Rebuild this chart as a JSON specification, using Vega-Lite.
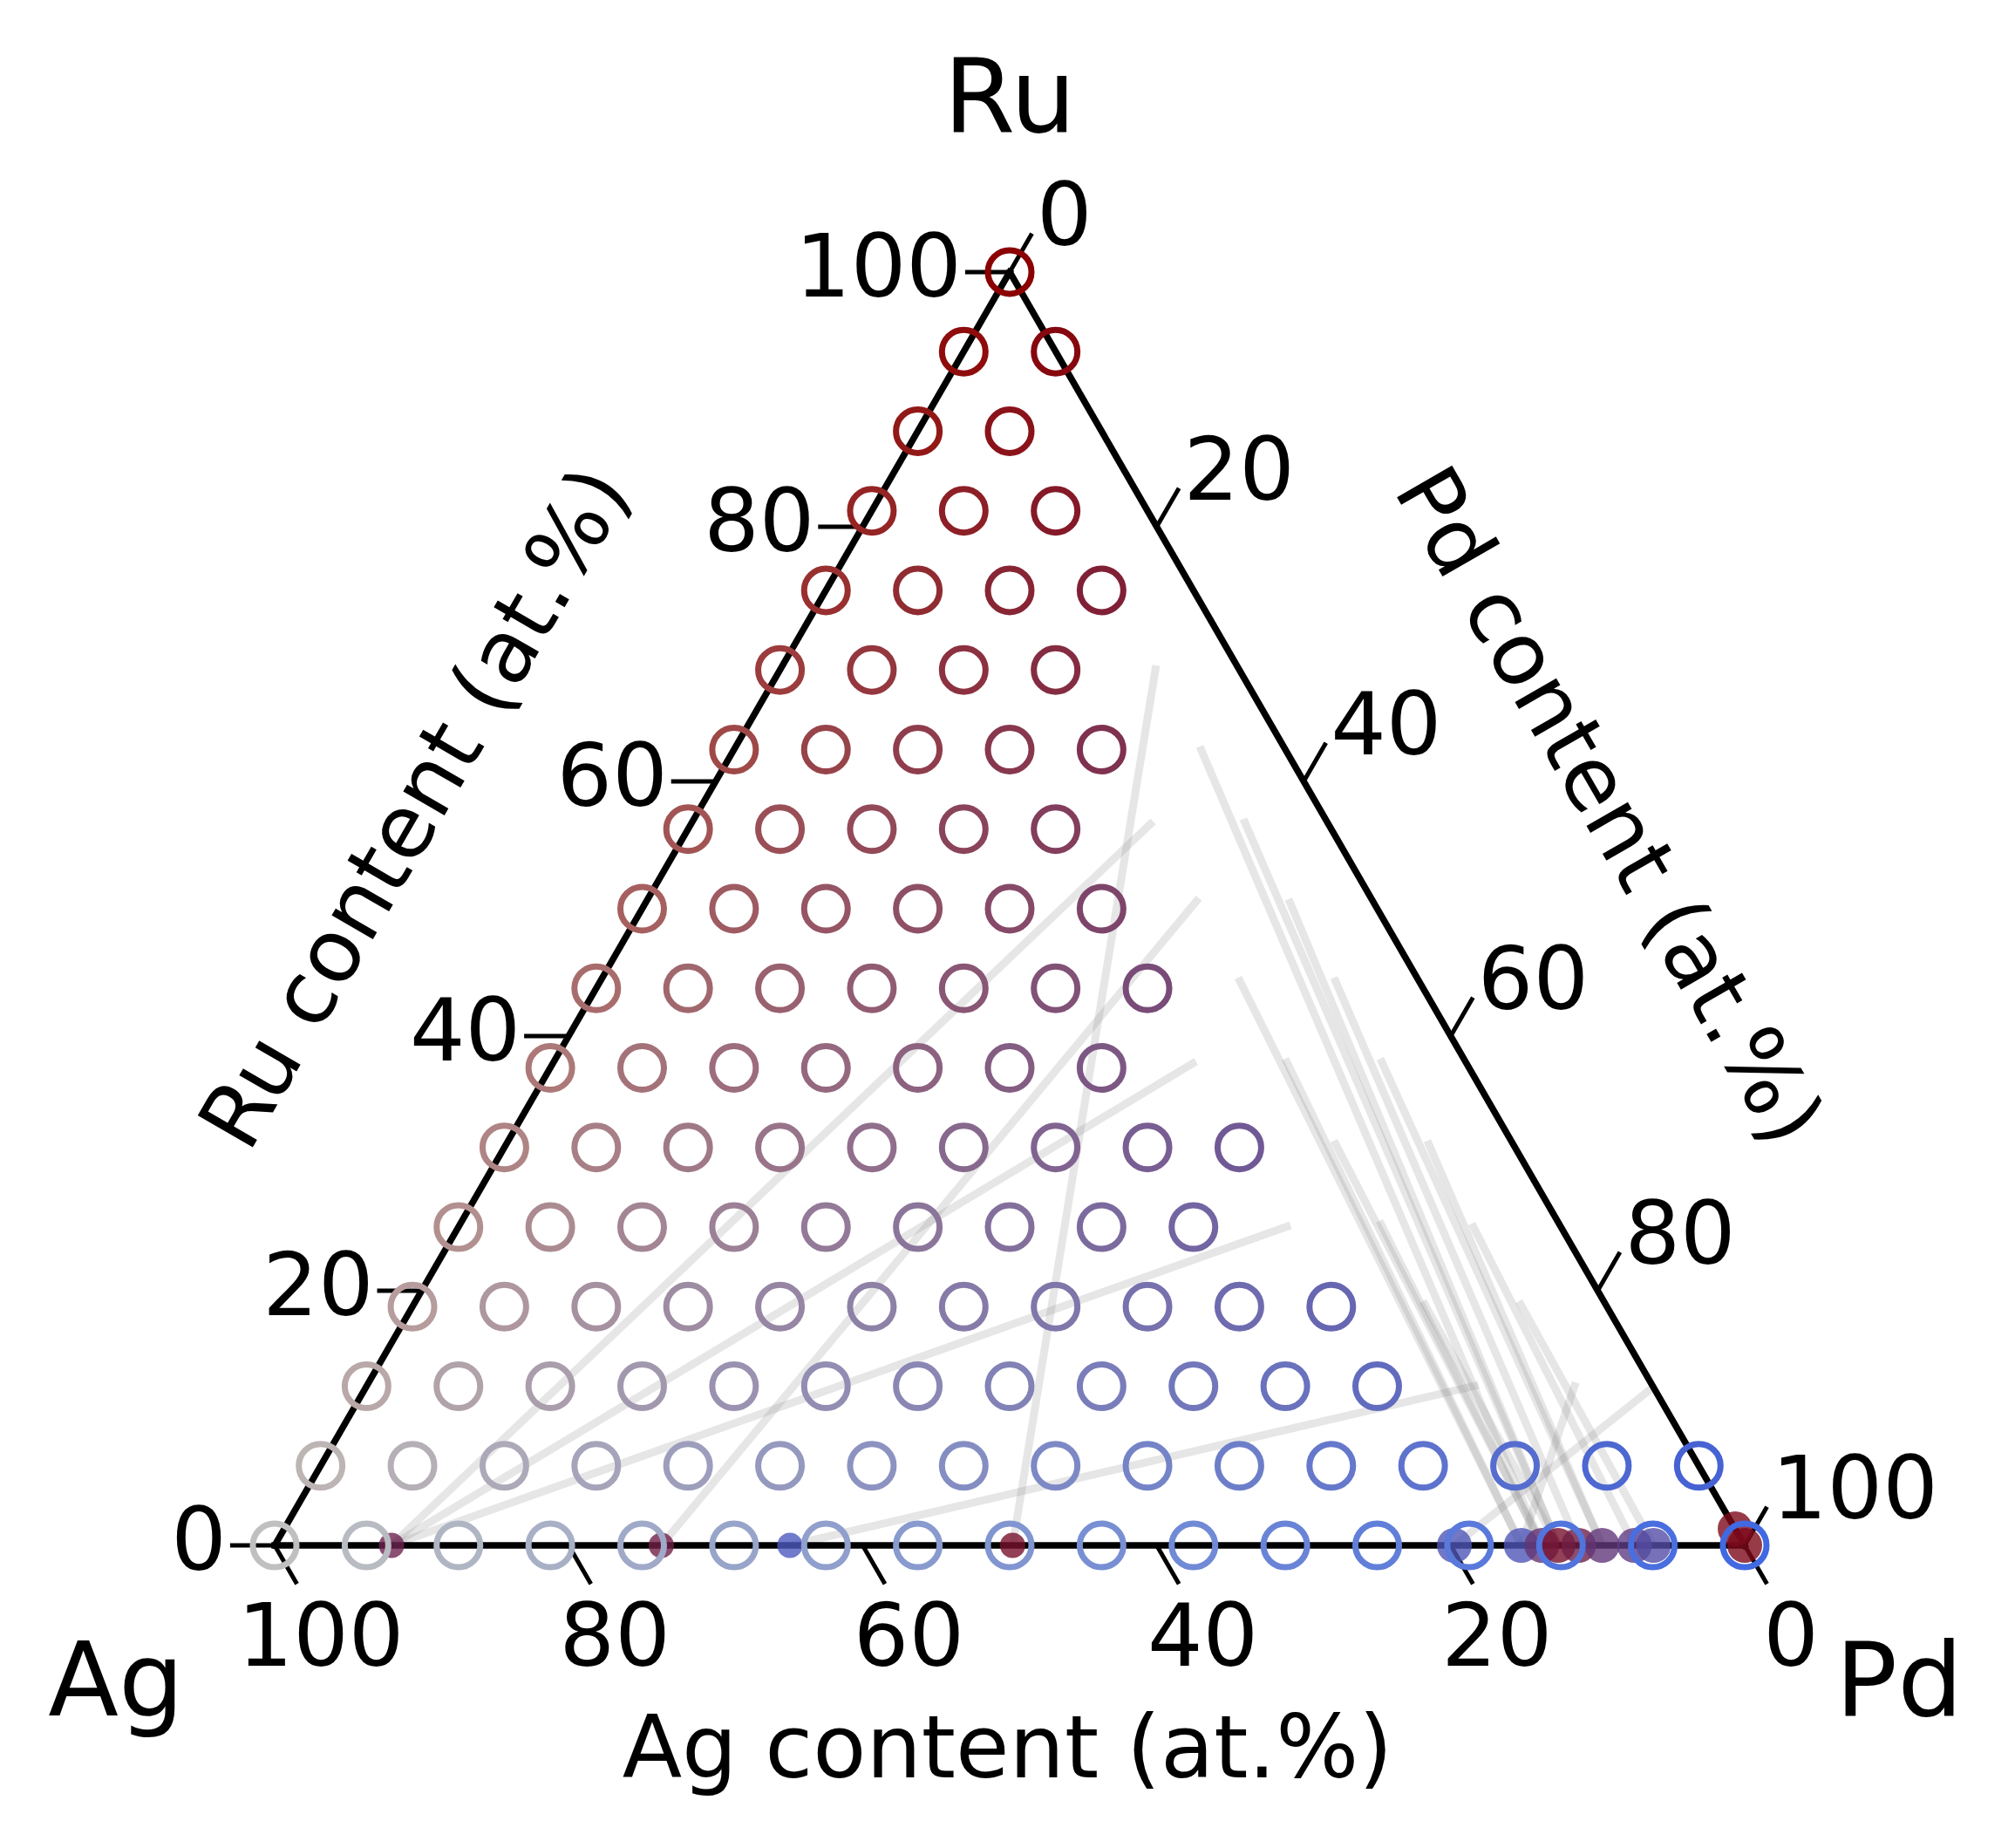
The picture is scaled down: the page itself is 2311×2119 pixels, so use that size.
{
  "$schema": "https://vega.github.io/schema/vega-lite/v6.json",
  "width": 2311,
  "height": 2119,
  "autosize": {"type": "fit", "contains": "padding"},
  "padding": 0,
  "background": "white",
  "config": {"view": {"stroke": null}, "text": {"font": "DejaVu Sans", "color": "black"}},
  "datasets": {
    "grid": [
      {"Pd":0,"Ru":100},
      {"Pd":0,"Ru":93.75},{"Pd":6.25,"Ru":93.75},
      {"Pd":0,"Ru":87.5},{"Pd":6.25,"Ru":87.5},
      {"Pd":0,"Ru":81.25},{"Pd":6.25,"Ru":81.25},{"Pd":12.5,"Ru":81.25},
      {"Pd":0,"Ru":75},{"Pd":6.25,"Ru":75},{"Pd":12.5,"Ru":75},{"Pd":18.75,"Ru":75},
      {"Pd":0,"Ru":68.75},{"Pd":6.25,"Ru":68.75},{"Pd":12.5,"Ru":68.75},{"Pd":18.75,"Ru":68.75},
      {"Pd":0,"Ru":62.5},{"Pd":6.25,"Ru":62.5},{"Pd":12.5,"Ru":62.5},{"Pd":18.75,"Ru":62.5},{"Pd":25,"Ru":62.5},
      {"Pd":0,"Ru":56.25},{"Pd":6.25,"Ru":56.25},{"Pd":12.5,"Ru":56.25},{"Pd":18.75,"Ru":56.25},{"Pd":25,"Ru":56.25},
      {"Pd":0,"Ru":50},{"Pd":6.25,"Ru":50},{"Pd":12.5,"Ru":50},{"Pd":18.75,"Ru":50},{"Pd":25,"Ru":50},{"Pd":31.25,"Ru":50},
      {"Pd":0,"Ru":43.75},{"Pd":6.25,"Ru":43.75},{"Pd":12.5,"Ru":43.75},{"Pd":18.75,"Ru":43.75},{"Pd":25,"Ru":43.75},{"Pd":31.25,"Ru":43.75},{"Pd":37.5,"Ru":43.75},
      {"Pd":0,"Ru":37.5},{"Pd":6.25,"Ru":37.5},{"Pd":12.5,"Ru":37.5},{"Pd":18.75,"Ru":37.5},{"Pd":25,"Ru":37.5},{"Pd":31.25,"Ru":37.5},{"Pd":37.5,"Ru":37.5},
      {"Pd":0,"Ru":31.25},{"Pd":6.25,"Ru":31.25},{"Pd":12.5,"Ru":31.25},{"Pd":18.75,"Ru":31.25},{"Pd":25,"Ru":31.25},{"Pd":31.25,"Ru":31.25},{"Pd":37.5,"Ru":31.25},{"Pd":43.75,"Ru":31.25},{"Pd":50,"Ru":31.25},
      {"Pd":0,"Ru":25},{"Pd":6.25,"Ru":25},{"Pd":12.5,"Ru":25},{"Pd":18.75,"Ru":25},{"Pd":25,"Ru":25},{"Pd":31.25,"Ru":25},{"Pd":37.5,"Ru":25},{"Pd":43.75,"Ru":25},{"Pd":50,"Ru":25},
      {"Pd":0,"Ru":18.75},{"Pd":6.25,"Ru":18.75},{"Pd":12.5,"Ru":18.75},{"Pd":18.75,"Ru":18.75},{"Pd":25,"Ru":18.75},{"Pd":31.25,"Ru":18.75},{"Pd":37.5,"Ru":18.75},{"Pd":43.75,"Ru":18.75},{"Pd":50,"Ru":18.75},{"Pd":56.25,"Ru":18.75},{"Pd":62.5,"Ru":18.75},
      {"Pd":0,"Ru":12.5},{"Pd":6.25,"Ru":12.5},{"Pd":12.5,"Ru":12.5},{"Pd":18.75,"Ru":12.5},{"Pd":25,"Ru":12.5},{"Pd":31.25,"Ru":12.5},{"Pd":37.5,"Ru":12.5},{"Pd":43.75,"Ru":12.5},{"Pd":50,"Ru":12.5},{"Pd":56.25,"Ru":12.5},{"Pd":62.5,"Ru":12.5},{"Pd":68.75,"Ru":12.5},
      {"Pd":0,"Ru":6.25},{"Pd":6.25,"Ru":6.25},{"Pd":12.5,"Ru":6.25},{"Pd":18.75,"Ru":6.25},{"Pd":25,"Ru":6.25},{"Pd":31.25,"Ru":6.25},{"Pd":37.5,"Ru":6.25},{"Pd":43.75,"Ru":6.25},{"Pd":50,"Ru":6.25},{"Pd":56.25,"Ru":6.25},{"Pd":62.5,"Ru":6.25},{"Pd":68.75,"Ru":6.25},{"Pd":75,"Ru":6.25},{"Pd":81.25,"Ru":6.25},{"Pd":87.5,"Ru":6.25},{"Pd":93.75,"Ru":6.25},
      {"Pd":0,"Ru":0},{"Pd":6.25,"Ru":0},{"Pd":12.5,"Ru":0},{"Pd":18.75,"Ru":0},{"Pd":25,"Ru":0},{"Pd":31.25,"Ru":0},{"Pd":37.5,"Ru":0},{"Pd":43.75,"Ru":0},{"Pd":50,"Ru":0},{"Pd":56.25,"Ru":0},{"Pd":62.5,"Ru":0},{"Pd":68.75,"Ru":0},{"Pd":75,"Ru":0},{"Pd":81.25,"Ru":0},{"Pd":87.5,"Ru":0},{"Pd":93.75,"Ru":0},{"Pd":100,"Ru":0}
    ],
    "measured": [
      {"Pd":7.95,"Ru":0,"f":0.7,"kind":"s"},
      {"Pd":26.3,"Ru":0,"f":0.75,"kind":"s"},
      {"Pd":35.05,"Ru":0,"f":0.05,"kind":"s"},
      {"Pd":50.2,"Ru":0,"f":0.9,"kind":"s"},
      {"Pd":80.25,"Ru":0,"f":0.1,"kind":"l"},
      {"Pd":84.8,"Ru":0,"f":0.1,"kind":"l"},
      {"Pd":86.2,"Ru":0,"f":0.5,"kind":"l"},
      {"Pd":87.3,"Ru":0,"f":0.9,"kind":"l"},
      {"Pd":88.7,"Ru":0,"f":0.75,"kind":"l"},
      {"Pd":90.3,"Ru":0,"f":0.45,"kind":"l"},
      {"Pd":92.5,"Ru":0,"f":0.4,"kind":"l"},
      {"Pd":93.8,"Ru":0,"f":0.2,"kind":"l"},
      {"Pd":98.7,"Ru":1.3,"f":1,"kind":"l"},
      {"Pd":100,"Ru":0,"f":1,"kind":"l"}
    ],
    "ties": [
      {"Pd1":7.95,"Ru1":0,"Pd2":31.33,"Ru2":56.85},
      {"Pd1":7.95,"Ru1":0,"Pd2":43.67,"Ru2":38.0},
      {"Pd1":7.95,"Ru1":0,"Pd2":56.53,"Ru2":25.14},
      {"Pd1":26.3,"Ru1":0,"Pd2":37.46,"Ru2":50.82},
      {"Pd1":50.2,"Ru1":0,"Pd2":25.41,"Ru2":69.1},
      {"Pd1":35.05,"Ru1":0,"Pd2":75.6,"Ru2":12.6},
      {"Pd1":84.8,"Ru1":0,"Pd2":82.1,"Ru2":12.8},
      {"Pd1":80.25,"Ru1":0,"Pd2":87.6,"Ru2":12.5},
      {"Pd1":86.2,"Ru1":0,"Pd2":31.56,"Ru2":62.74},
      {"Pd1":87.3,"Ru1":0,"Pd2":37.37,"Ru2":57.05},
      {"Pd1":87.3,"Ru1":0,"Pd2":43.6,"Ru2":50.75},
      {"Pd1":88.7,"Ru1":0,"Pd2":49.77,"Ru2":44.59},
      {"Pd1":90.3,"Ru1":0,"Pd2":56.1,"Ru2":38.22},
      {"Pd1":90.3,"Ru1":0,"Pd2":62.52,"Ru2":31.78},
      {"Pd1":92.5,"Ru1":0,"Pd2":68.8,"Ru2":25.27},
      {"Pd1":93.8,"Ru1":0,"Pd2":75.05,"Ru2":19.18},
      {"Pd1":84.8,"Ru1":0,"Pd2":43.25,"Ru2":44.59},
      {"Pd1":84.8,"Ru1":0,"Pd2":49.63,"Ru2":38.22},
      {"Pd1":86.2,"Ru1":0,"Pd2":56.17,"Ru2":31.78},
      {"Pd1":86.2,"Ru1":0,"Pd2":62.41,"Ru2":25.48},
      {"Pd1":87.3,"Ru1":0,"Pd2":68.52,"Ru2":19.18}
    ],
    "edges": [
      {"Pd1":0,"Ru1":0,"Pd2":100,"Ru2":0},
      {"Pd1":100,"Ru1":0,"Pd2":0,"Ru2":100},
      {"Pd1":0,"Ru1":100,"Pd2":0,"Ru2":0}
    ],
    "ticks": [{"v":0},{"v":20},{"v":40},{"v":60},{"v":80},{"v":100}]
  },
  "layer": [
    {
      "data": {"name": "ties"},
      "transform": [
        {"calculate": "(datum.Pd1 + datum.Ru1/2)/100", "as": "x"},
        {"calculate": "datum.Ru1*0.008660254", "as": "y"},
        {"calculate": "(datum.Pd2 + datum.Ru2/2)/100", "as": "xe"},
        {"calculate": "datum.Ru2*0.008660254", "as": "ye"}
      ],
      "mark": {"type": "rule", "color": "#808080", "opacity": 0.2, "strokeWidth": 9},
      "encoding": {
        "x": {"field": "x", "type": "quantitative", "scale": {"domain": [-0.18683, 1.18387], "nice": false, "zero": false}, "axis": null},
        "y": {"field": "y", "type": "quantitative", "scale": {"domain": [-0.20581, 1.05101], "nice": false, "zero": false}, "axis": null},
        "x2": {"field": "xe"},
        "y2": {"field": "ye"}
      }
    },
    {
      "data": {"name": "edges"},
      "transform": [
        {"calculate": "(datum.Pd1 + datum.Ru1/2)/100", "as": "x"},
        {"calculate": "datum.Ru1*0.008660254", "as": "y"},
        {"calculate": "(datum.Pd2 + datum.Ru2/2)/100", "as": "xe"},
        {"calculate": "datum.Ru2*0.008660254", "as": "ye"}
      ],
      "mark": {"type": "rule", "color": "black", "strokeWidth": 7.5, "strokeCap": "square"},
      "encoding": {
        "x": {"field": "x", "type": "quantitative", "axis": null},
        "y": {"field": "y", "type": "quantitative", "axis": null},
        "x2": {"field": "xe"},
        "y2": {"field": "ye"}
      }
    },
    {
      "data": {"name": "ticks"},
      "transform": [
        {"calculate": "(100 - datum.v)/100", "as": "x"},
        {"calculate": "0", "as": "y"},
        {"calculate": "datum.x + 0.01515", "as": "xe"},
        {"calculate": "datum.y - 0.02624", "as": "ye"}
      ],
      "mark": {"type": "rule", "color": "black", "strokeWidth": 5},
      "encoding": {
        "x": {"field": "x", "type": "quantitative", "axis": null},
        "y": {"field": "y", "type": "quantitative", "axis": null},
        "x2": {"field": "xe"},
        "y2": {"field": "ye"}
      }
    },
    {
      "data": {"name": "ticks"},
      "transform": [
        {"calculate": "datum.v/200", "as": "x"},
        {"calculate": "datum.v*0.008660254", "as": "y"},
        {"calculate": "datum.x - 0.0303", "as": "xe"},
        {"calculate": "datum.y", "as": "ye"}
      ],
      "mark": {"type": "rule", "color": "black", "strokeWidth": 5},
      "encoding": {
        "x": {"field": "x", "type": "quantitative", "axis": null},
        "y": {"field": "y", "type": "quantitative", "axis": null},
        "x2": {"field": "xe"},
        "y2": {"field": "ye"}
      }
    },
    {
      "data": {"name": "ticks"},
      "transform": [
        {"calculate": "(100 + datum.v)/200", "as": "x"},
        {"calculate": "(100 - datum.v)*0.008660254", "as": "y"},
        {"calculate": "datum.x + 0.01515", "as": "xe"},
        {"calculate": "datum.y + 0.02624", "as": "ye"}
      ],
      "mark": {"type": "rule", "color": "black", "strokeWidth": 5},
      "encoding": {
        "x": {"field": "x", "type": "quantitative", "axis": null},
        "y": {"field": "y", "type": "quantitative", "axis": null},
        "x2": {"field": "xe"},
        "y2": {"field": "ye"}
      }
    },
    {
      "data": {"name": "measured"},
      "transform": [
        {"calculate": "(datum.Pd + datum.Ru/2)/100", "as": "x"},
        {"calculate": "datum.Ru*0.008660254", "as": "y"}
      ],
      "mark": {"type": "circle", "opacity": 0.8},
      "encoding": {
        "x": {"field": "x", "type": "quantitative", "axis": null},
        "y": {"field": "y", "type": "quantitative", "axis": null},
        "color": {"field": "f", "type": "quantitative", "scale": {"domain": [0, 1], "range": ["#4a5ec8", "#7d0a1c"], "interpolate": "rgb"}, "legend": null},
        "size": {"field": "kind", "type": "ordinal", "scale": {"domain": ["s", "l"], "range": [850, 1600]}, "legend": null}
      }
    },
    {
      "data": {"name": "grid"},
      "transform": [
        {"calculate": "(datum.Pd + datum.Ru/2)/100", "as": "x"},
        {"calculate": "datum.Ru*0.008660254", "as": "y"},
        {"calculate": "100 - datum.Pd - datum.Ru", "as": "Ag"},
        {"calculate": "'rgb(' + round((datum.Ag*192 + datum.Ru*139 + datum.Pd*65)/100) + ',' + round((datum.Ag*192 + datum.Pd*105)/100) + ',' + round((datum.Ag*192 + datum.Pd*225)/100) + ')'", "as": "col"}
      ],
      "mark": {"type": "point", "filled": false, "size": 2500, "strokeWidth": 7, "opacity": 1},
      "encoding": {
        "x": {"field": "x", "type": "quantitative", "axis": null},
        "y": {"field": "y", "type": "quantitative", "axis": null},
        "color": {"field": "col", "type": "nominal", "scale": null}
      }
    },
    {
      "data": {"name": "ticks"},
      "transform": [
        {"calculate": "(100 - datum.v)/100", "as": "x"},
        {"calculate": "0", "as": "y"}
      ],
      "mark": {"type": "text", "fontSize": 100, "align": "center", "baseline": "alphabetic", "dx": 53, "dy": 138},
      "encoding": {
        "x": {"field": "x", "type": "quantitative", "axis": null},
        "y": {"field": "y", "type": "quantitative", "axis": null},
        "text": {"field": "v", "type": "nominal"}
      }
    },
    {
      "data": {"name": "ticks"},
      "transform": [
        {"calculate": "datum.v/200", "as": "x"},
        {"calculate": "datum.v*0.008660254", "as": "y"}
      ],
      "mark": {"type": "text", "fontSize": 100, "align": "right", "baseline": "alphabetic", "dx": -55, "dy": 28},
      "encoding": {
        "x": {"field": "x", "type": "quantitative", "axis": null},
        "y": {"field": "y", "type": "quantitative", "axis": null},
        "text": {"field": "v", "type": "nominal"}
      }
    },
    {
      "data": {"name": "ticks"},
      "transform": [
        {"calculate": "(100 + datum.v)/200", "as": "x"},
        {"calculate": "(100 - datum.v)*0.008660254", "as": "y"}
      ],
      "mark": {"type": "text", "fontSize": 100, "align": "left", "baseline": "alphabetic", "dx": 31, "dy": -31},
      "encoding": {
        "x": {"field": "x", "type": "quantitative", "axis": null},
        "y": {"field": "y", "type": "quantitative", "axis": null},
        "text": {"field": "v", "type": "nominal"}
      }
    },
    {
      "data": {"values": [{"label": "Ag content (at.%)"}]},
      "mark": {"type": "text", "fontSize": 100, "align": "center", "baseline": "alphabetic"},
      "encoding": {
        "x": {"datum": 0.4985, "type": "quantitative"},
        "y": {"datum": -0.1578, "type": "quantitative"},
        "text": {"field": "label", "type": "nominal"}
      }
    },
    {
      "data": {"values": [{"label": "Ru content (at.%)"}]},
      "mark": {"type": "text", "fontSize": 100, "align": "center", "baseline": "middle", "angle": -60},
      "encoding": {
        "x": {"datum": 0.0973, "type": "quantitative"},
        "y": {"datum": 0.5006, "type": "quantitative"},
        "text": {"field": "label", "type": "nominal"}
      }
    },
    {
      "data": {"values": [{"label": "Pd content (at.%)"}]},
      "mark": {"type": "text", "fontSize": 100, "align": "center", "baseline": "middle", "angle": 60},
      "encoding": {
        "x": {"datum": 0.9057, "type": "quantitative"},
        "y": {"datum": 0.5018, "type": "quantitative"},
        "text": {"field": "label", "type": "nominal"}
      }
    },
    {
      "data": {"values": [{"label": "Ru"}]},
      "mark": {"type": "text", "fontSize": 118, "align": "center", "baseline": "alphabetic"},
      "encoding": {
        "x": {"datum": 0.5, "type": "quantitative"},
        "y": {"datum": 0.9614, "type": "quantitative"},
        "text": {"field": "label", "type": "nominal"}
      }
    },
    {
      "data": {"values": [{"label": "Ag"}]},
      "mark": {"type": "text", "fontSize": 118, "align": "center", "baseline": "alphabetic"},
      "encoding": {
        "x": {"datum": -0.1079, "type": "quantitative"},
        "y": {"datum": -0.1157, "type": "quantitative"},
        "text": {"field": "label", "type": "nominal"}
      }
    },
    {
      "data": {"values": [{"label": "Pd"}]},
      "mark": {"type": "text", "fontSize": 118, "align": "center", "baseline": "alphabetic"},
      "encoding": {
        "x": {"datum": 1.105, "type": "quantitative"},
        "y": {"datum": -0.1163, "type": "quantitative"},
        "text": {"field": "label", "type": "nominal"}
      }
    }
  ]
}
